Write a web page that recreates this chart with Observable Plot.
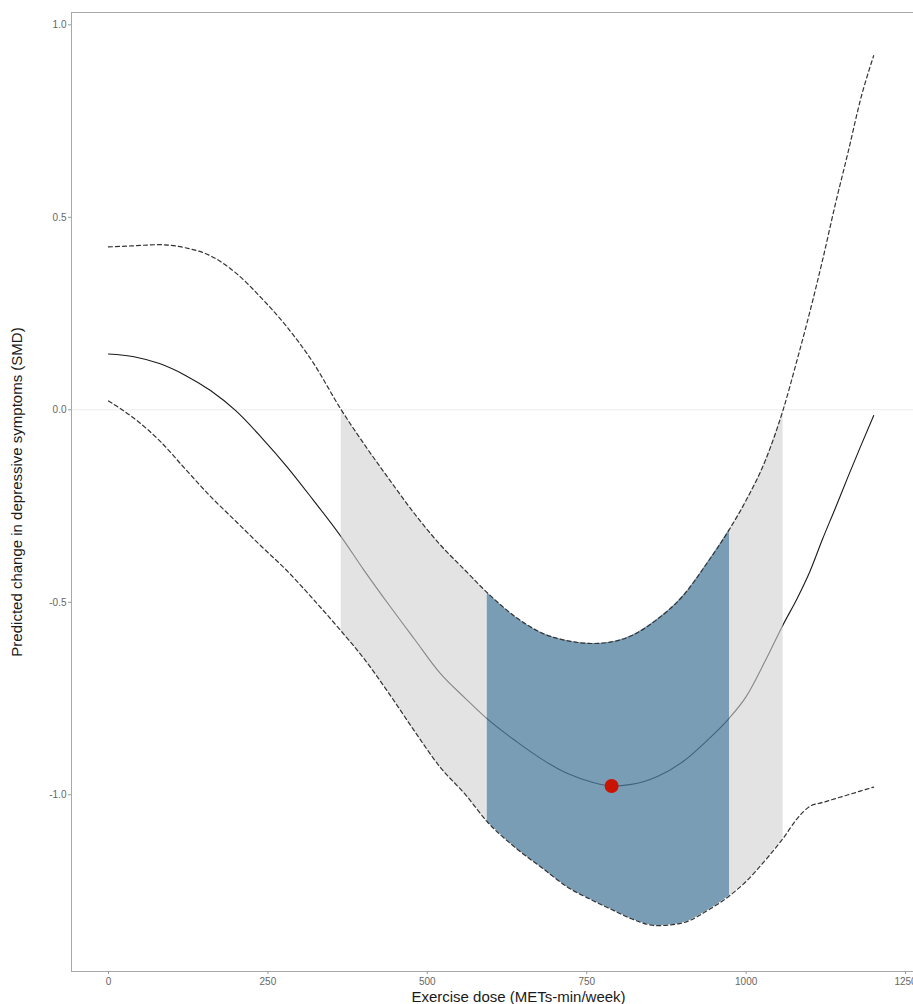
<!DOCTYPE html>
<html>
<head>
<meta charset="utf-8">
<script src="https://cdn.jsdelivr.net/npm/d3@7"></script>
<script src="https://cdn.jsdelivr.net/npm/@observablehq/plot@0.6"></script>
<style>
  html, body { margin: 0; padding: 0; background: white; }
  #wrap { width: 913px; height: 1004px; overflow: hidden; }
  #wrap svg { max-width: none !important; }
  g[aria-label="x-axis label"] text, g[aria-label="y-axis label"] text { fill: #1a1a1a; font-size: 15px; }
</style>
</head>
<body>
<div id="wrap"></div>
<script>
// Exercise dose (METs-min/week)
const doses = [0, 40, 80, 120, 160, 200, 240, 280, 320, 365, 400, 440, 480, 520, 560, 594, 640, 680, 720, 760, 789, 820, 860, 900, 940, 974, 1000, 1030, 1058, 1080, 1100, 1120, 1140, 1160, 1180, 1200];
// Predicted change in depressive symptoms (SMD)
const meanSMD = [0.145, 0.138, 0.12, 0.09, 0.05, -0.003, -0.072, -0.148, -0.232, -0.33, -0.415, -0.507, -0.596, -0.684, -0.75, -0.803, -0.862, -0.908, -0.945, -0.968, -0.977, -0.973, -0.953, -0.915, -0.857, -0.80, -0.745, -0.652, -0.558, -0.49, -0.42, -0.335, -0.255, -0.173, -0.093, -0.015];
const upperCI = [0.423, 0.426, 0.429, 0.421, 0.40, 0.355, 0.29, 0.215, 0.125, 0.0, -0.087, -0.18, -0.27, -0.35, -0.418, -0.475, -0.54, -0.58, -0.60, -0.607, -0.603, -0.587, -0.545, -0.485, -0.395, -0.31, -0.235, -0.132, 0.0, 0.13, 0.255, 0.39, 0.535, 0.67, 0.81, 0.92];
const lowerCI = [0.023, -0.022, -0.08, -0.153, -0.225, -0.29, -0.355, -0.418, -0.49, -0.575, -0.645, -0.737, -0.835, -0.928, -1.0, -1.07, -1.14, -1.19, -1.24, -1.275, -1.298, -1.322, -1.34, -1.333, -1.30, -1.262, -1.225, -1.17, -1.113, -1.062, -1.03, -1.02, -1.01, -1.0, -0.99, -0.98];

// shaded ranges of dose
const significantRange = [365, 1058];
const optimalRange = [594, 974];

// optimum point
const optimumDose = [789];
const optimumSMD = [-0.977];

const xTicks = [0, 250, 500, 750, 1000, 1250];
const yTicks = [-1.0, -0.5, 0.0, 0.5, 1.0];

const rows = doses.map((x, i) => ({x, mean: meanSMD[i], hi: upperCI[i], lo: lowerCI[i]}));
const optimum = optimumDose.map((x, i) => ({x, y: optimumSMD[i]}));
const curve = "monotone-x";

const chart = Plot.plot({
  width: 975,
  height: 1004,
  marginLeft: 71,
  marginRight: 10,
  marginTop: 12,
  marginBottom: 33,
  style: {fontFamily: "'Liberation Sans', Arial, sans-serif", fontSize: "10px", background: "white", maxWidth: "none"},
  x: {domain: [-58, 1344]},
  y: {domain: [-1.459, 1.032]},
  marks: [
    Plot.ruleY([0], {stroke: "#ebebeb", strokeWidth: 1}),
    Plot.line(rows, {x: "x", y: "mean", stroke: "#1a1a1a", strokeWidth: 1.1, curve}),
    Plot.areaY(rows, {filter: d => d.x >= significantRange[0] && d.x <= optimalRange[0], x: "x", y1: "lo", y2: "hi", fill: "#d0d0d0", fillOpacity: 0.6, curve}),
    Plot.areaY(rows, {filter: d => d.x >= optimalRange[0] && d.x <= optimalRange[1], x: "x", y1: "lo", y2: "hi", fill: "#4e7c9e", fillOpacity: 0.75, curve}),
    Plot.areaY(rows, {filter: d => d.x >= optimalRange[1] && d.x <= significantRange[1], x: "x", y1: "lo", y2: "hi", fill: "#d0d0d0", fillOpacity: 0.6, curve}),
    Plot.line(rows, {x: "x", y: "hi", stroke: "#333", strokeWidth: 1.2, strokeDasharray: "4,3", curve}),
    Plot.line(rows, {x: "x", y: "lo", stroke: "#333", strokeWidth: 1.2, strokeDasharray: "4,3", curve}),
    Plot.dot(optimum, {x: "x", y: "y", r: 7, fill: "#c81400", stroke: "none"}),
    Plot.frame({stroke: "#a8a8a8"}),
    Plot.axisX({ticks: xTicks, tickFormat: d => String(d), tickSize: 3, tickPadding: 3, stroke: "#999", fill: "#666",
      label: "Exercise dose (METs-min/week)", labelAnchor: "center", labelOffset: 30, labelArrow: false}),
    Plot.axisY({ticks: yTicks, tickFormat: d => d.toFixed(1), tickSize: 3, tickPadding: 2, stroke: "#999", fill: "#666",
      label: "Predicted change in depressive symptoms (SMD)", labelAnchor: "center", labelOffset: 60, labelArrow: false})
  ]
});
document.getElementById("wrap").appendChild(chart);
</script>
</body>
</html>
